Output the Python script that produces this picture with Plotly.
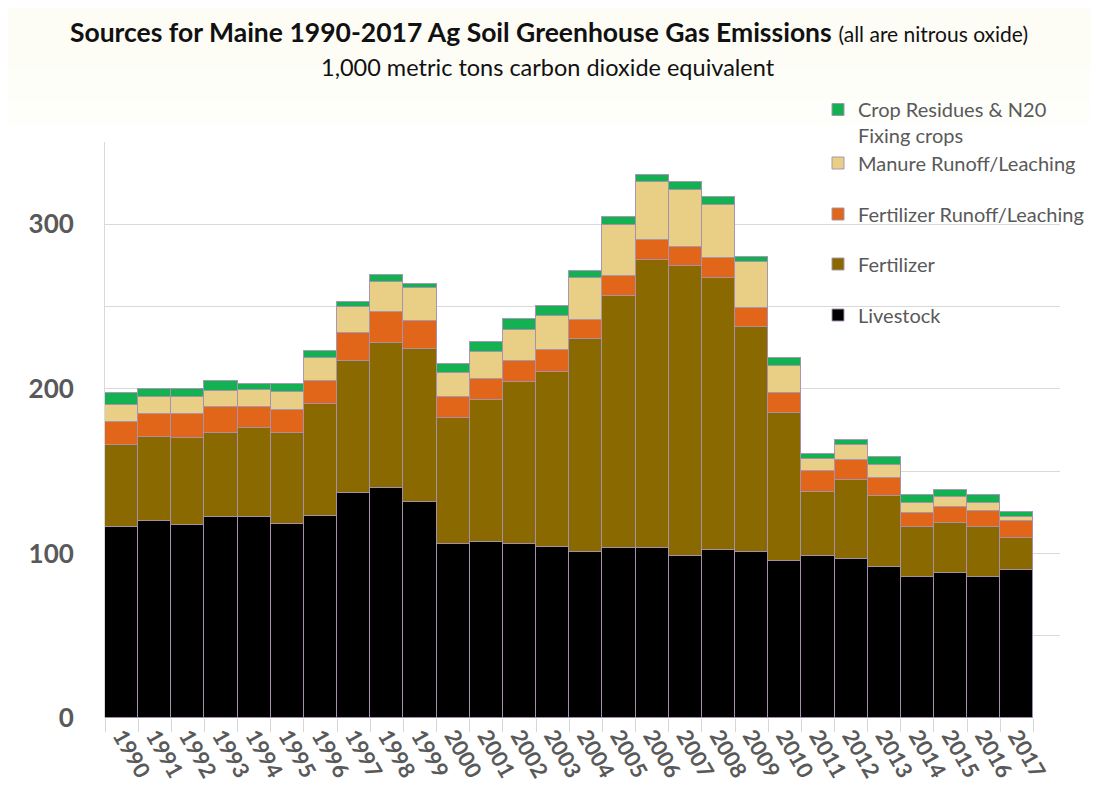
import plotly.graph_objects as go

years = [str(y) for y in range(1990, 2018)]

livestock = [116, 120, 117, 122, 122, 118, 123, 137, 140, 131,
             106, 107, 106, 104, 101, 103, 103, 98.5, 102, 101,
             95.6, 98.5, 96.4, 92, 85.5, 88.4, 85.5, 90]
fertilizer = [50, 51, 53, 51, 54, 55, 68, 80, 88, 93,
              76, 86, 98, 106.5, 129, 153.5, 175.4, 175.9, 165.3, 136.5,
              89.6, 39.1, 48.3, 43, 30.4, 30.3, 30.8, 19.4]
fert_runoff = [14, 14, 14.5, 16, 13, 14, 14, 17, 19, 17,
               13, 13, 13, 13, 11.7, 11.8, 11.8, 11.7, 12.2, 11.5,
               12.2, 12.2, 11.8, 10.7, 8.9, 9.7, 9.7, 10.1]
manure_runoff = [10, 10, 10.5, 9.5, 10.5, 11, 13.5, 15.5, 18, 20,
                 14.6, 16.7, 19, 21, 25.7, 31.4, 35.3, 34.9, 32.4, 27.8,
                 16.6, 7.5, 9.5, 8.1, 6.1, 5.7, 4.9, 2.9]
crop_residues = [7.5, 5, 5, 6.5, 3.5, 5, 4.5, 3, 4, 3,
                 5.3, 5.5, 6.4, 5.6, 4.1, 5, 4.6, 4.5, 4.9, 3.3,
                 4.6, 3.2, 3, 4.6, 4.5, 4.5, 4.5, 3]

series = [
    ("Livestock", livestock, "#000000", "legend5"),
    ("Fertilizer", fertilizer, "#8A6A00", "legend4"),
    ("Fertilizer Runoff/Leaching", fert_runoff, "#E2661A", "legend3"),
    ("Manure Runoff/Leaching", manure_runoff, "#E9CF86", "legend2"),
    ("Crop Residues & N20<br>Fixing crops", crop_residues, "#14B152", "legend"),
]

# the page body adds an 8px offset; work in page pixels and shift
OFF = 8
W, H = 1098 - OFF, 804 - OFF
L, R, T, B = 105 - OFF, 1060 - OFF, 142 - OFF, 718 - OFF

def px_x(x):
    return (x - OFF - L) / (R - L)

def px_y(y):
    return (B - (y - OFF)) / (B - T)

fig = go.Figure()
for name, vals, color, lg in series:
    fig.add_trace(go.Bar(
        x=years, y=vals, name=name, legend=lg,
        marker=dict(color=color, line=dict(color="rgba(165,145,175,0.95)", width=1)),
    ))

legend_font = dict(family="Lato", size=20, color="#595959")
legend_pos = {"legend": 110, "legend2": 163, "legend3": 214, "legend4": 264, "legend5": 315}
leg_layout = {}
for lg, ypx in legend_pos.items():
    d = dict(x=px_x(818), xanchor="left", y=px_y(ypx), yanchor="middle",
             bgcolor="rgba(0,0,0,0)", font=legend_font, itemwidth=30,
             itemclick=False, itemdoubleclick=False)
    if lg == "legend":
        d.update(y=px_y(ypx - 20), yanchor="top", valign="top")
    leg_layout[lg] = d

shapes = []
for y_end, col in [(70, "#FCFCEC"), (100, "#FDFDF2"), (125, "#FEFEF8")]:
    shapes.append(dict(type="rect", xref="paper", yref="paper",
                       x0=px_x(0), x1=px_x(1098), y0=px_y(y_end), y1=px_y(0),
                       fillcolor=col, line=dict(width=0), layer="below", opacity=0.6))

fig.update_layout(
    width=W, height=H,
    barmode="stack", bargap=0,
    showlegend=True,
    paper_bgcolor="#FFFFFF", plot_bgcolor="#FFFFFF",
    margin=dict(l=L, r=W - R, t=T, b=H - B, pad=0, autoexpand=False),
    font=dict(family="Lato", color="#595959"),
    title=dict(
        text="<b>Sources for Maine 1990-2017 Ag Soil Greenhouse Gas Emissions</b>"
             " <span style='font-size:21px'>(all are nitrous oxide)</span>",
        font=dict(family="Lato", size=26.5, color="#111111"),
        x=(549 - OFF) / W, xanchor="center", xref="container",
        y=1 - (33 - OFF) / H, yanchor="middle",
    ),
    annotations=[dict(
        text="1,000 metric tons carbon dioxide equivalent",
        xref="paper", yref="paper", x=px_x(548), y=px_y(67),
        xanchor="center", yanchor="middle", showarrow=False,
        font=dict(family="Lato", size=23.5, color="#111111"),
    )],
    xaxis=dict(
        type="category", range=[-0.5, 28.3], automargin=False,
        tickangle=60, tickfont=dict(family="Lato", size=22, color="#595959", weight="bold"),
        showgrid=False, showline=False, ticks="outside", ticklen=13, tickcolor="#D6D6D6",
        tickson="boundaries",
    ),
    yaxis=dict(
        range=[0, 350], tickvals=[0, 100, 200, 300], automargin=False,
        tickfont=dict(family="Lato", size=26, color="#595959", weight="bold"),
        showgrid=True, gridcolor="#D9D9D9", gridwidth=1,
        minor=dict(dtick=50, showgrid=True, gridcolor="#D9D9D9", gridwidth=1),
        showline=True, linecolor="#D9D9D9", linewidth=1,
        zeroline=False, ticklabelstandoff=25,
    ),
    shapes=shapes,
    **leg_layout,
)

fig.write_html("out.html")
